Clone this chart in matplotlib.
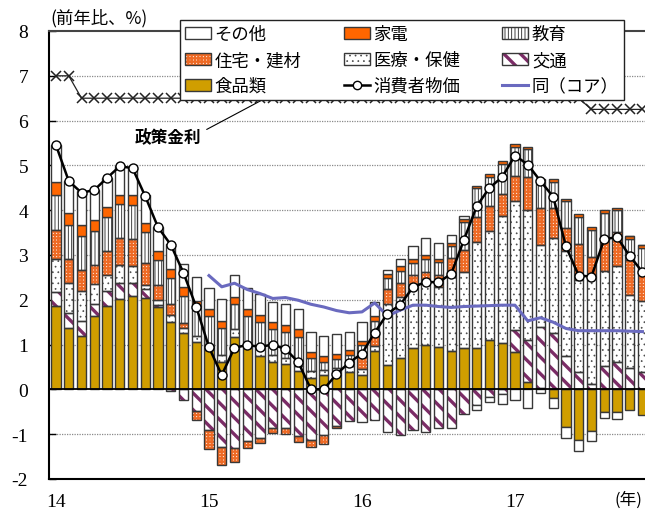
import numpy as np
import matplotlib
matplotlib.use("Agg")
import matplotlib.pyplot as plt
from matplotlib.patches import Patch, Rectangle
from matplotlib.lines import Line2D
from matplotlib.legend_handler import HandlerTuple

# ---------------- data (Jan 2014 - Nov 2017, monthly) ----------------
food = [1.86, 1.38, 1.20, 1.64, 1.86, 2.01, 2.08, 2.03, 1.85, 1.51, 1.25, 1.06,
        0.88, 0.62, 1.18, 0.92, 0.75, 0.62, 0.56, 0.42, 0.26, 0.33, 0.32, 0.39,
        0.33, 0.86, 0.54, 0.71, 0.92, 0.99, 0.95, 0.86, 0.93, 0.93, 1.10, 1.03,
        0.84, 0.17, 0.04, -0.20, -0.85, -1.13, -0.93, -0.50, -0.50, -0.45, -0.57]
transport = [0.32, 0.33, 0.33, 0.26, 0.33, 0.37, 0.29, 0.20, 0.03, -0.03, -0.24, -0.48,
             -0.91, -1.28, -1.30, -1.15, -1.09, -0.86, -0.87, -1.03, -1.13, -1.02, -0.82, -0.71,
             -0.72, -0.68, -0.96, -1.02, -0.91, -0.96, -0.87, -0.87, -0.54, -0.35, -0.16, -0.10,
             0.48, 0.94, 1.36, 1.25, 0.74, 0.39, 0.13, 0.53, 0.62, 0.48, 0.39]
medical = [0.72, 0.67, 0.67, 0.45, 0.36, 0.40, 0.39, 0.11, 0.11, 0.15, 0.13, 0.14,
           0.02, 0.15, 0.16, 0.10, 0.16, 0.15, 0.15, 0.11, 0.15, 0.10, 0.15, 0.13,
           0.12, 0.10, 1.36, 1.36, 1.43, 1.47, 1.34, 1.77, 1.70, 2.37, 2.43, 2.83,
           2.88, 2.90, 1.82, 2.12, 2.34, 2.05, 2.38, 2.11, 2.14, 1.62, 1.58]
housing = [0.66, 0.54, 0.46, 0.43, 0.54, 0.59, 0.60, 0.49, 0.33, 0.25, 0.11, -0.20,
           -0.41, -0.41, -0.31, -0.16, -0.10, -0.11, -0.13, -0.15, -0.16, -0.19, -0.05, 0.00,
           0.28, 0.26, 0.33, 0.30, 0.21, 0.16, 0.26, 0.30, 0.48, 0.54, 0.56, 0.50,
           0.56, 0.73, 0.83, 0.67, 0.53, 0.80, 0.45, 0.69, 0.76, 0.78, 0.69]
education = [0.78, 0.75, 0.77, 0.75, 0.76, 0.76, 0.75, 0.69, 0.56, 0.58, 0.60, 0.67,
             0.74, 0.60, 0.57, 0.62, 0.60, 0.58, 0.58, 0.65, 0.28, 0.19, 0.20, 0.25,
             0.25, 0.31, 0.25, 0.28, 0.26, 0.30, 0.30, 0.26, 0.63, 0.65, 0.65, 0.67,
             0.64, 0.62, 0.62, 0.60, 0.60, 0.60, 0.60, 0.60, 0.48, 0.48, 0.50]
appliance = [0.28, 0.26, 0.24, 0.25, 0.22, 0.22, 0.23, 0.20, 0.20, 0.20, 0.20, 0.11,
             0.15, 0.16, 0.16, 0.16, 0.15, 0.15, 0.15, 0.16, 0.15, 0.13, 0.12, 0.11,
             0.11, 0.11, 0.10, 0.10, 0.09, 0.09, 0.07, 0.07, 0.07, 0.06, 0.06, 0.06,
             0.07, 0.05, 0.03, 0.06, 0.04, 0.07, 0.06, 0.07, 0.06, 0.06, 0.06]
other = [0.83, 0.72, 0.76, 0.67, 0.65, 0.64, 0.61, 0.62, 0.54, 0.56, 0.52, 0.54,
         0.48, 0.49, 0.48, 0.46, 0.48, 0.46, 0.47, 0.45, 0.45, 0.45, 0.44, 0.41,
         0.42, 0.30, 0.09, 0.17, 0.30, 0.36, 0.35, 0.19, 0.06, -0.11, -0.13, -0.23,
         -0.24, -0.41, -0.09, -0.21, -0.23, -0.25, -0.22, -0.13, -0.16, 0.00, 0.00]
cpi = [5.45, 4.65, 4.39, 4.45, 4.72, 4.98, 4.94, 4.31, 3.62, 3.23, 2.60, 1.84,
       0.94, 0.32, 0.93, 0.99, 0.95, 1.00, 0.90, 0.61, 0.00, 0.00, 0.34, 0.60,
       0.80, 1.27, 1.69, 1.89, 2.28, 2.40, 2.39, 2.58, 3.34, 4.09, 4.50, 4.74,
       5.22, 5.02, 4.65, 4.30, 3.19, 2.54, 2.52, 3.35, 3.40, 2.98, 2.62]
# core CPI starts Jan 2015
core = [2.54, 2.29, 2.37, 2.23, 2.14, 2.03, 2.05, 1.99, 1.90, 1.84, 1.76, 1.71,
        1.73, 1.93, 1.64, 1.77, 1.88, 1.88, 1.85, 1.83, 1.85, 1.86, 1.87, 1.88,
        1.88, 1.53, 1.60, 1.50, 1.36, 1.31, 1.31, 1.31, 1.31, 1.30, 1.29]
policy = [7.0, 7.0, 6.5, 6.5, 6.5, 6.5, 6.5, 6.5, 6.5, 6.5, 6.5, 6.5,
          6.5, 6.5, 6.5, 6.5, 6.5, 6.5, 6.5, 6.5, 6.5, 6.5, 6.5, 6.5,
          6.5, 6.5, 6.5, 6.5, 6.5, 6.5, 6.5, 6.5, 6.5, 6.5, 6.5, 6.5,
          6.5, 6.5, 6.5, 6.5, 6.5, 6.5, 6.25, 6.25, 6.25, 6.25, 6.25]
year_ticks = [0, 12, 24, 36]
year_labels = ["14", "15", "16", "17"]
y_ticks = [-2, -1, 0, 1, 2, 3, 4, 5, 6, 7, 8]
y_labels = ["-2", "-1", "0", "1", "2", "3", "4", "5", "6", "7", "8"]

# ---------------- styling ----------------
JP = ["Noto Sans CJK JP", "DejaVu Sans"]
SERIF = "Liberation Serif"
plt.rcParams["font.family"] = JP
plt.rcParams["hatch.linewidth"] = 1.0

fig = plt.figure(figsize=(6.45, 5.10), dpi=100)
ax = fig.add_axes([49 / 645, 30 / 510, 596 / 645, 448 / 510])

n = len(cpi)
x = np.arange(n)
W = 0.72
EDGE = "#383838"

C_FOOD = "#D09E00"
C_APPL = "#FF6600"
C_HOUSE = "#EE6A25"
C_TRANS = "#7B2C66"
C_MED = "#4A4A4A"
C_EDU = "#222222"

HS_TRANS = ("\\\\", C_TRANS, 2.4)
HS_MED = ("...", C_MED, 0.5)
HS_HOUSE = ("+++++", C_HOUSE, 1.6)
HS_EDU = ("|||||", C_EDU, 0.6)
HATCH_LW = {h[0]: h[2] for h in (HS_TRANS, HS_MED, HS_HOUSE, HS_EDU)}


def fix_hatch_lw(artist, lw):
    """Make the artist use the given hatch line width, whichever way it is read."""
    if hasattr(artist, "set_hatch_linewidth"):
        artist.set_hatch_linewidth(lw)
    orig = artist.draw

    def draw(renderer, *a, **k):
        with plt.rc_context({"hatch.linewidth": lw}):
            return orig(renderer, *a, **k)
    artist.draw = draw


components = [
    (food, dict(color=C_FOOD, hs=None)),
    (transport, dict(color="white", hs=HS_TRANS)),
    (medical, dict(color="white", hs=HS_MED)),
    (housing, dict(color="white", hs=HS_HOUSE)),
    (education, dict(color="white", hs=HS_EDU)),
    (appliance, dict(color=C_APPL, hs=None)),
    (other, dict(color="white", hs=None)),
]

pos = np.zeros(n)
neg = np.zeros(n)
for vals, st in components:
    v = np.array(vals, dtype=float)
    bottoms = np.where(v >= 0, pos, neg)
    if st["hs"]:
        hatch, hcolor, hlw = st["hs"]
        with plt.rc_context({"hatch.linewidth": hlw}):
            bars = ax.bar(x, v, W, bottom=bottoms, facecolor="white",
                          edgecolor=hcolor, hatch=hatch, lw=0, zorder=2)
        for p in bars:
            fix_hatch_lw(p, hlw)
        ax.bar(x, v, W, bottom=bottoms, fill=False, edgecolor=EDGE, lw=1.0, zorder=2.1)
    else:
        ax.bar(x, v, W, bottom=bottoms, facecolor=st["color"], edgecolor=EDGE,
               lw=1.0, zorder=2.1)
    pos = pos + np.clip(v, 0, None)
    neg = neg + np.clip(v, None, 0)

# grid & zero line
for yv in [-1, 1, 2, 3, 4, 5, 6, 7]:
    ax.axhline(yv, color="#8a8a8a", lw=0.9, ls=(0, (1, 1)), zorder=0.5)
ax.axhline(0, color="black", lw=1.3, zorder=3)

# lines
ax.plot(x, policy, color="#222222", lw=0.9, marker="x", ms=7, mew=1.1, zorder=4)
ax.plot(x[12:12 + len(core)], core, color="#6A6ABF", lw=2.2, zorder=5)
ax.plot(x, cpi, color="black", lw=1.8, marker="o", ms=6.5, mfc="white",
        mec="black", mew=1.0, zorder=6)

# axes formatting
ax.set_xlim(-0.55, 46.2)
ax.set_ylim(-2, 8)
ax.set_yticks(y_ticks)
ax.set_yticklabels(y_labels, fontfamily=SERIF, fontsize=14)
ax.set_xticks(year_ticks)
ax.set_xticklabels(year_labels, fontfamily=SERIF, fontsize=14)
ax.tick_params(axis="y", direction="in", length=5, width=1, pad=15)
ax.tick_params(axis="x", length=0, pad=10)
for s in ["left", "bottom"]:
    ax.spines[s].set_linewidth(1.5)
    ax.spines[s].set_color("black")
ax.spines["top"].set_linewidth(1.5)
ax.spines["top"].set_color("#444444")
ax.spines["right"].set_visible(False)

fig.text(628 / 645, 1 - 500 / 510, "(年)", fontsize=12, ha="center", va="center",
         family=JP)
fig.text(50 / 645, 1 - 18 / 510, "(前年比、%)", fontsize=12.5, ha="left", va="center",
         family=JP)

ax.annotate("政策金利", xy=(16.1, 6.45), xytext=(8.8, 5.62), fontsize=12,
            fontweight="bold", ha="center", va="center", family=JP,
            arrowprops=dict(arrowstyle="-", color="black", lw=0.8,
                            shrinkA=2, shrinkB=0, relpos=(1.0, 0.8)),
            zorder=7)

# legend
def hpatch(hs):
    hatch, hcolor, hlw = hs
    with plt.rc_context({"hatch.linewidth": hlw}):
        p = Patch(facecolor="white", edgecolor=hcolor, hatch=hatch, lw=0)
    if hasattr(p, "set_hatch_linewidth"):
        p.set_hatch_linewidth(hlw)
    return (p, Patch(facecolor="none", edgecolor=EDGE, lw=1.0))

h_other = Patch(facecolor="white", edgecolor=EDGE, lw=1.0)
h_appl = Patch(facecolor=C_APPL, edgecolor=EDGE, lw=1.0)
h_food = Patch(facecolor=C_FOOD, edgecolor=EDGE, lw=1.0)
h_edu = hpatch(HS_EDU)
h_house = hpatch(HS_HOUSE)
h_med = hpatch(HS_MED)
h_trans = hpatch(HS_TRANS)
h_cpi = Line2D([], [], color="black", lw=1.8, marker="o", ms=6, mfc="white", mec="black")
h_core = Line2D([], [], color="#6A6ABF", lw=2.2)

handles = [h_other, h_house, h_food, h_appl, h_med, h_cpi, h_edu, h_trans, h_core]
labels = ["その他", "住宅・建材", "食品類", "家電", "医療・保健", "消費者物価",
          "教育", "交通", "同（コア）"]
leg = fig.legend(handles, labels, loc="upper left",
                 bbox_to_anchor=(180 / 645, 1 - 101 / 510, 444 / 645, 80 / 510),
                 mode="expand", ncol=3, fontsize=12.5, frameon=True, fancybox=False,
                 framealpha=1, edgecolor="#222222", handlelength=1.5, handleheight=0.7,
                 handletextpad=0.2, labelspacing=0.45, borderpad=0.3, borderaxespad=0,
                 handler_map={tuple: HandlerTuple(ndivide=1)})
leg.get_frame().set_linewidth(1.0)
leg.set_zorder(10)
for r in leg.findobj(Rectangle):
    h = r.get_hatch()
    if h in HATCH_LW:
        fix_hatch_lw(r, HATCH_LW[h])

fig.savefig("out.png", dpi=100)
